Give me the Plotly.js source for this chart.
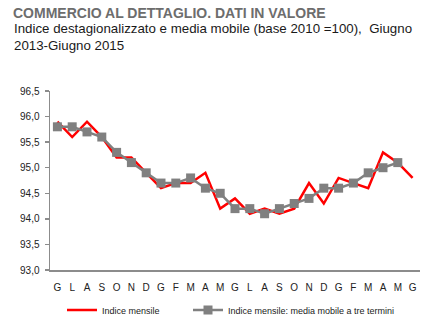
<!DOCTYPE html>
<html>
<head>
<meta charset="utf-8">
<script src="https://cdn.plot.ly/plotly-3.0.1.min.js"></script>
<style>
html,body{margin:0;padding:0;background:#fff;}
#chart{width:429px;height:328px;}
</style>
</head>
<body>
<div id="chart"></div>
<script>
// Months June 2013 - June 2015 (Italian initials)
const months = ['G','L','A','S','O','N','D','G','F','M','A','M','G','L','A','S','O','N','D','G','F','M','A','M','G'];
// Indice mensile (red)
const indiceMensile = [95.9, 95.6, 95.9, 95.6, 95.2, 95.2, 94.9, 94.6, 94.7, 94.7, 94.9, 94.2, 94.4, 94.1, 94.2, 94.1, 94.2, 94.7, 94.3, 94.8, 94.7, 94.6, 95.3, 95.1, 94.8];
// Media mobile a tre termini (gray), ends at May 2015
const mediaMobile = [95.8, 95.8, 95.7, 95.6, 95.3, 95.1, 94.9, 94.7, 94.7, 94.8, 94.6, 94.5, 94.2, 94.2, 94.1, 94.2, 94.3, 94.4, 94.6, 94.6, 94.7, 94.9, 95.0, 95.1];
const yTicks = [93.0, 93.5, 94.0, 94.5, 95.0, 95.5, 96.0, 96.5];

const xIdx = months.map((_, i) => i);
const FONT = 'Liberation Sans, Arial, sans-serif';

const traces = [
  {
    x: xIdx, y: indiceMensile, type: 'scatter', mode: 'lines',
    name: 'Indice mensile',
    line: {color: '#ff0000', width: 2.5},
    legend: 'legend'
  },
  {
    x: xIdx.slice(0, mediaMobile.length), y: mediaMobile, type: 'scatter', mode: 'lines+markers',
    name: 'Indice mensile: media mobile a tre termini',
    line: {color: '#808080', width: 2.5},
    marker: {symbol: 'square', size: 9, color: '#808080'},
    legend: 'legend2'
  }
];

const legendFont = {family: FONT, size: 9, color: '#222'};

const layout = {
  width: 429, height: 328,
  margin: {l: 50, r: 9, t: 91, b: 58, autoexpand: false},
  paper_bgcolor: '#fff', plot_bgcolor: '#fff',
  separators: ',.',
  font: {family: FONT, size: 10, color: '#222'},
  title: {
    text: '<b>COMMERCIO AL DETTAGLIO. DATI IN VALORE</b>',
    font: {family: FONT, size: 14, color: '#6d6d6d'},
    xref: 'container', yref: 'container',
    x: 13/429, xanchor: 'left', y: 1 - 8/328, yanchor: 'top'
  },
  annotations: [{
    text: 'Indice destagionalizzato e media mobile (base 2010 =100),  Giugno<br>2013-Giugno 2015',
    xref: 'paper', yref: 'paper', x: (12-50)/370, y: (270-19)/179, xanchor: 'left', yanchor: 'top',
    align: 'left', showarrow: false,
    font: {family: FONT, size: 13.3, color: '#1a1a1a'}
  }],
  xaxis: {
    range: [-0.5, 24.5],
    tickvals: xIdx, ticktext: months,
    showline: true, linecolor: '#8c8c8c', linewidth: 1.5,
    ticks: 'outside', ticklen: 7, tickcolor: 'rgba(0,0,0,0)',
    showgrid: false, zeroline: false, automargin: false,
    tickfont: {family: FONT, size: 10, color: '#222'},
    fixedrange: true
  },
  yaxis: {
    range: [93, 96.5],
    tickvals: yTicks, tickformat: '.1f',
    showline: true, linecolor: '#8c8c8c', linewidth: 1.5,
    ticks: 'outside', ticklen: 4, tickcolor: '#8c8c8c', tickwidth: 1.5,
    ticklabelstandoff: 3,
    showgrid: false, zeroline: false, automargin: false,
    tickfont: {family: FONT, size: 10, color: '#222'},
    fixedrange: true
  },
  showlegend: true,
  legend: {
    orientation: 'h',
    x: (62-50)/370, xanchor: 'left',
    y: (270-310)/179, yanchor: 'middle',
    font: legendFont,
    bgcolor: 'rgba(0,0,0,0)'
  },
  legend2: {
    orientation: 'h',
    x: (188-50)/370, xanchor: 'left',
    y: (270-310)/179, yanchor: 'middle',
    font: legendFont,
    bgcolor: 'rgba(0,0,0,0)'
  }
};

Plotly.newPlot('chart', traces, layout, {displayModeBar: false, staticPlot: true});
</script>
</body>
</html>
